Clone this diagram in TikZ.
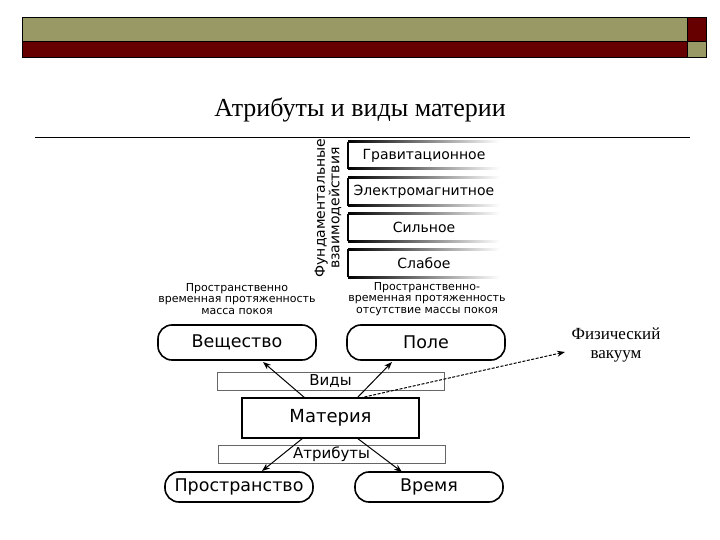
\documentclass[tikz,border=0pt]{standalone}
\usepackage{fontspec}
\setmainfont{Liberation Serif}
\newfontfamily\djv{DejaVu Sans}
\usetikzlibrary{arrows.meta}
\definecolor{olive}{RGB}{153,153,102}
\definecolor{dred}{RGB}{102,0,0}
\begin{document}
\begin{tikzpicture}[x=1pt,y=-1pt,
  rbox/.style={draw,line width=1.6pt,rounded corners=14pt,font=\djv\fontsize{17.5}{19}\selectfont,inner sep=0},
  bar/.style={draw=black!60,font=\djv\fontsize{15}{17}\selectfont,inner sep=0},
  lab/.style={font=\djv\fontsize{11}{11.5}\selectfont,align=center},
  arr/.style={-{Stealth[length=8pt,width=6pt]},line width=1pt}]
\useasboundingbox (0,0) rectangle (720,540);
\fill[white] (0,0) rectangle (720,540);
\fill[olive,draw=black] (22,17) rectangle (687,41);
\fill[dred,draw=black] (22,41) rectangle (687,57);
\fill[dred,draw=black] (687,17) rectangle (706,41);
\fill[olive,draw=black] (687,41) rectangle (706,57);
\node[font=\fontsize{26}{28}\selectfont] (title) at (360,110) {Атрибуты и виды материи};
\draw (35,137) -- (690,137);
% interactions
\foreach \t/\b/\txt [count=\i] in {142/169/Гравитационное,178/206/Электромагнитное,214/241/Сильное,249/277/Слабое}{
  \draw[line width=1.6pt] (348,\t) -- (348,\b);
  \shade[left color=black,right color=white] (348,\t-1) rectangle (500,\t+1);
  \shade[left color=black,right color=white] (348,\b-1) rectangle (500,\b+1);
  \node[font=\djv\fontsize{14}{15}\selectfont] (i\i) at (424,{(\t+\b)/2}) {\txt};
}
\node[rotate=90,font=\djv\fontsize{14}{14.5}\selectfont,align=center] (fund) at (328,208) {Фундаментальные\\взаимодействия};
\node[lab] (l1) at (237,299) {Пространственно\\временная протяженность\\масса покоя};
\node[lab] (l2) at (427,299) {Пространственно-\\временная протяженность\\отсутствие массы покоя};
\node[rbox,minimum width=158,minimum height=35] (v) at (237,342.5) {Вещество};
\node[rbox,minimum width=158,minimum height=35] (p) at (426,342.5) {Поле};
\node[bar,minimum width=227,minimum height=18] (vid) at (330.5,381) {Виды};
\node[bar,minimum width=227,minimum height=18] (atr) at (331.5,454) {Атрибуты};
\node[draw,line width=2.5pt,minimum width=177,minimum height=40,inner sep=0,font=\djv\fontsize{18}{20}\selectfont,fill=white] (m) at (330.5,418) {Материя};
\node[rbox,minimum width=148,minimum height=30] (s) at (239,487) {Пространство};
\node[rbox,minimum width=148,minimum height=30] (t) at (429,487) {Время};
\node[align=center,font=\fontsize{17}{19}\selectfont] (vac) at (616,345) {Физический\\вакуум};
\coordinate (va) at (565,352);
\draw[arr] (305,398) -- (263,362);
\draw[arr] (357,398) -- (392,362);
\draw[arr] (303,438) -- (262,471);
\draw[arr] (357,438) -- (402,472);
\draw[arr,dash pattern=on 3pt off 1.5pt] (360,398) -- (va);
\end{tikzpicture}
\end{document}
